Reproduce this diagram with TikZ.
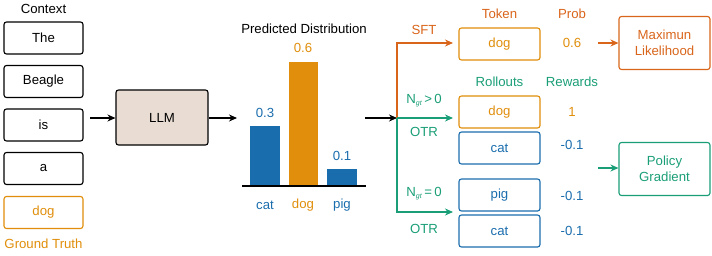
\documentclass[tikz,border=0pt]{standalone}
\usepackage{fontspec}
\setmainfont{Liberation Sans}
\usetikzlibrary{arrows.meta}
\definecolor{cor}{HTML}{E08E0B}
\definecolor{cbl}{HTML}{1A6DAD}
\definecolor{cgr}{HTML}{1A9E77}
\definecolor{cvm}{HTML}{D9651B}
\definecolor{cllm}{HTML}{E9DDD3}
\begin{document}
\begin{tikzpicture}[x=1pt,y=-1pt,
  font=\fontsize{13.2}{15.5}\selectfont,
  tok/.style={draw, line width=1.1pt, rounded corners=2.5pt, minimum width=79pt, minimum height=32pt, inner sep=0pt},
  bigbox/.style={draw, line width=1.1pt, rounded corners=2.5pt, minimum width=91pt, minimum height=53pt, inner sep=0pt, align=center},
  arr/.style={line width=1.1pt, -{Stealth[length=8pt,width=7pt]}},
  lbl/.style={inner sep=0pt}]
\useasboundingbox (0,0) rectangle (712,255);
% context
\node[lbl] (ctx) at (43.5,9) {Context};
\node[tok] (t1) at (43.5,38) {The};
\node[tok] (t2) at (43.5,81.5) {Beagle};
\node[tok] (t3) at (43.5,125) {is};
\node[tok] (t4) at (43.5,168.5) {a};
\node[tok, draw=cor, text=cor] (t5) at (43.5,212.5) {dog};
\node[lbl, text=cor] (gt) at (43.5,244) {Ground Truth};
% LLM
\coordinate (inL) at (90,118);
\node[bigbox, fill=cllm, minimum width=92pt, minimum height=55pt] (llm) at (162,117.5) {LLM};
\coordinate (outL) at (237,118);
\draw[arr] (inL) -- (inL -| llm.west);
\draw[arr] (llm.east |- outL) -- (outL);
% chart
\node[lbl] (pd) at (304,29) {Predicted Distribution};
\fill[cbl] (250,186) rectangle (280,125.5);
\fill[cor] (288.5,186) rectangle (318,61.5);
\fill[cbl] (327,186) rectangle (357,169);
\draw[line width=1.1pt] (242,186) -- (366,186);
\node[lbl, text=cbl] (v1) at (265,113) {0.3};
\node[lbl, text=cor] (v2) at (303,48) {0.6};
\node[lbl, text=cbl] (v3) at (342,156) {0.1};
\node[lbl, text=cbl] (c1) at (265,205) {cat};
\node[lbl, text=cor] (c2) at (303,205) {dog};
\node[lbl, text=cbl] (c3) at (342,205) {pig};
% branches
\coordinate (cs) at (365,118);
\coordinate (br) at (397,118);
\coordinate (e1) at (453,43);
\coordinate (e2) at (453,118);
\coordinate (e3) at (453,212);
\draw[arr] (cs) -- (br);
\draw[arr, cvm] (br) |- (e1);
\draw[arr, cgr] (br) -- (e2);
\draw[arr, cgr] (br) |- (e3);
\node[lbl, text=cvm] (sft) at (424,30) {SFT};
\node[lbl, text=cgr] (n1) at (424,101) {N\textsubscript{\fontsize{7}{8}\selectfont\itshape gt}\,>\,0};
\node[lbl, text=cgr] (o1) at (424,132) {OTR};
\node[lbl, text=cgr] (n2) at (424,194) {N\textsubscript{\fontsize{7}{8}\selectfont\itshape gt}\,=\,0};
\node[lbl, text=cgr] (o2) at (424,229) {OTR};
% right boxes
\node[lbl, text=cvm] (hk) at (499.5,14) {Token};
\node[lbl, text=cvm] (hp) at (572,14) {Prob};
\node[tok, draw=cor, text=cor, minimum width=81pt] (r1) at (499.5,44) {dog};
\node[lbl, text=cor] (p1) at (572,43) {0.6};
\node[lbl, text=cgr] (hr) at (499.5,82) {Rollouts};
\node[lbl, text=cgr] (hw) at (572,82) {Rewards};
\node[tok, draw=cor, text=cor, minimum width=81pt] (r2) at (499.5,112) {dog};
\node[tok, draw=cbl, text=cbl, minimum width=81pt] (r3) at (499.5,148) {cat};
\node[tok, draw=cbl, text=cbl, minimum width=81pt] (r4) at (499.5,195) {pig};
\node[tok, draw=cbl, text=cbl, minimum width=81pt] (r5) at (499.5,231) {cat};
\node[lbl, text=cor] (w1) at (572,112) {1};
\node[lbl, text=cbl] (w2) at (572,145) {-0.1};
\node[lbl, text=cbl] (w3) at (572,196) {-0.1};
\node[lbl, text=cbl] (w4) at (572,231) {-0.1};
\node[bigbox, draw=cvm, text=cvm] (ml) at (664.5,43) {Maximun\\Likelihood};
\node[bigbox, draw=cgr, text=cgr] (pg) at (664.5,169) {Policy\\Gradient};
\coordinate (a1) at (598,43);
\coordinate (a2) at (598,168);
\draw[arr, cvm] (a1) -- (ml.west |- a1);
\draw[arr, cgr] (a2) -- (pg.west |- a2);
\end{tikzpicture}
\end{document}
